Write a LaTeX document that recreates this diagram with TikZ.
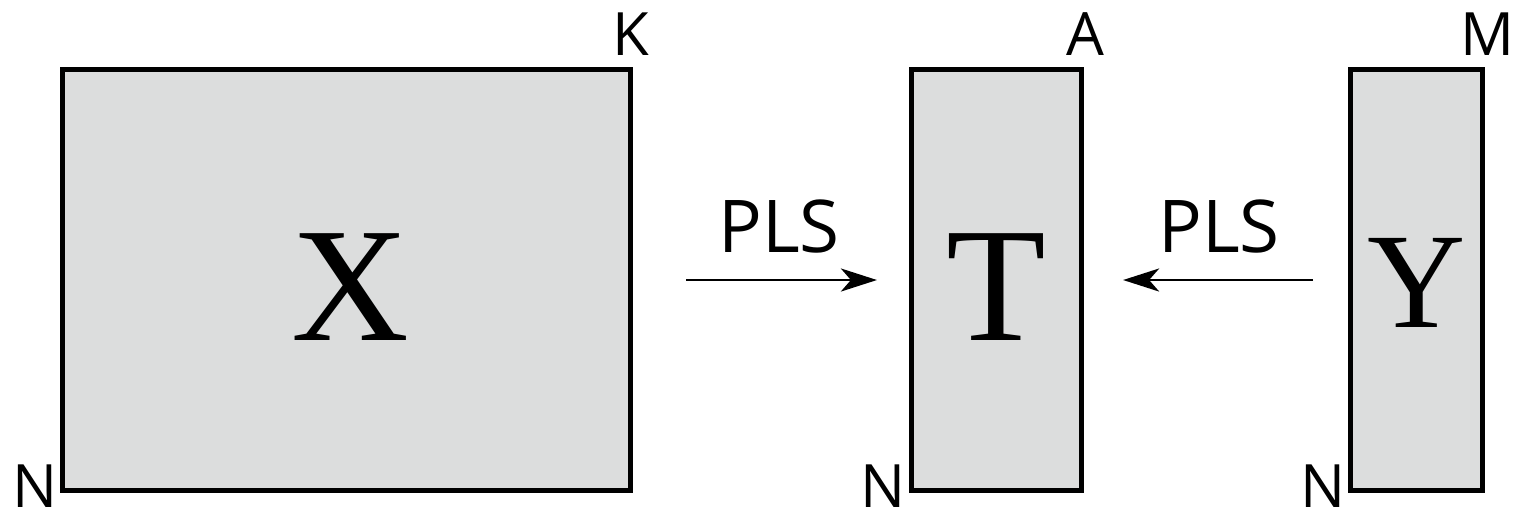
\documentclass[tikz,border=0pt]{standalone}
\usepackage{fontspec}
\setmainfont{Liberation Serif}
\setsansfont{Open Sans}
\usetikzlibrary{arrows.meta}
\definecolor{boxgray}{RGB}{220,221,221}
\begin{document}
\begin{tikzpicture}[x=0.01cm,y=-0.01cm,
  mat/.style={draw=black, fill=boxgray, line width=1.42pt, inner sep=0pt, outer sep=0pt},
  dimlabel/.style={font=\sffamily\fontsize{17}{17}\selectfont, anchor=base, inner sep=0pt},
  plslabel/.style={font=\sffamily\fontsize{20.7}{20.7}\selectfont, anchor=base, inner sep=0pt},
  bigletter/.style={font=\fontsize{46.4}{46.4}\selectfont, anchor=base, inner sep=0pt},
  midletter/.style={font=\fontsize{38.7}{38.7}\selectfont, anchor=base, inner sep=0pt},
  conn/.style={line width=0.8pt, -{Stealth[length=3.6mm, width=2.3mm, inset=1mm]}}]
\useasboundingbox (0,0) rectangle (1513,514);
% boxes
\node[mat, minimum width=5.675cm, minimum height=4.21cm] (bx) at (346.25,280) {};
\node[mat, minimum width=1.69cm, minimum height=4.21cm] (bt) at (996.5,280) {};
\node[mat, minimum width=1.31cm, minimum height=4.21cm] (by) at (1416.5,280) {};
% letters
\node[bigletter] (lx) at (350,340) {X};
\node[bigletter] (lt) at (996,340) {T};
\node[midletter] (ly) at (1417,327) {Y};
% dimension labels
\node[dimlabel] (k) at (631,55) {K};
\node[dimlabel] (a) at (1085,55) {A};
\node[dimlabel] (m) at (1487,55) {M};
\node[dimlabel] (n1) at (35,507) {N};
\node[dimlabel] (n2) at (883,507) {N};
\node[dimlabel] (n3) at (1323,507) {N};
% PLS labels
\node[plslabel] (p1) at (779,252) {PLS};
\node[plslabel] (p2) at (1219,252) {PLS};
% arrows
\coordinate (a1s) at (686,280);
\coordinate (a2s) at (1313,280);
\draw[conn, shorten >=0.35cm] (a1s) -- (bt.west |- a1s);
\draw[conn, shorten >=0.42cm] (a2s) -- (bt.east |- a2s);
\end{tikzpicture}
\end{document}
